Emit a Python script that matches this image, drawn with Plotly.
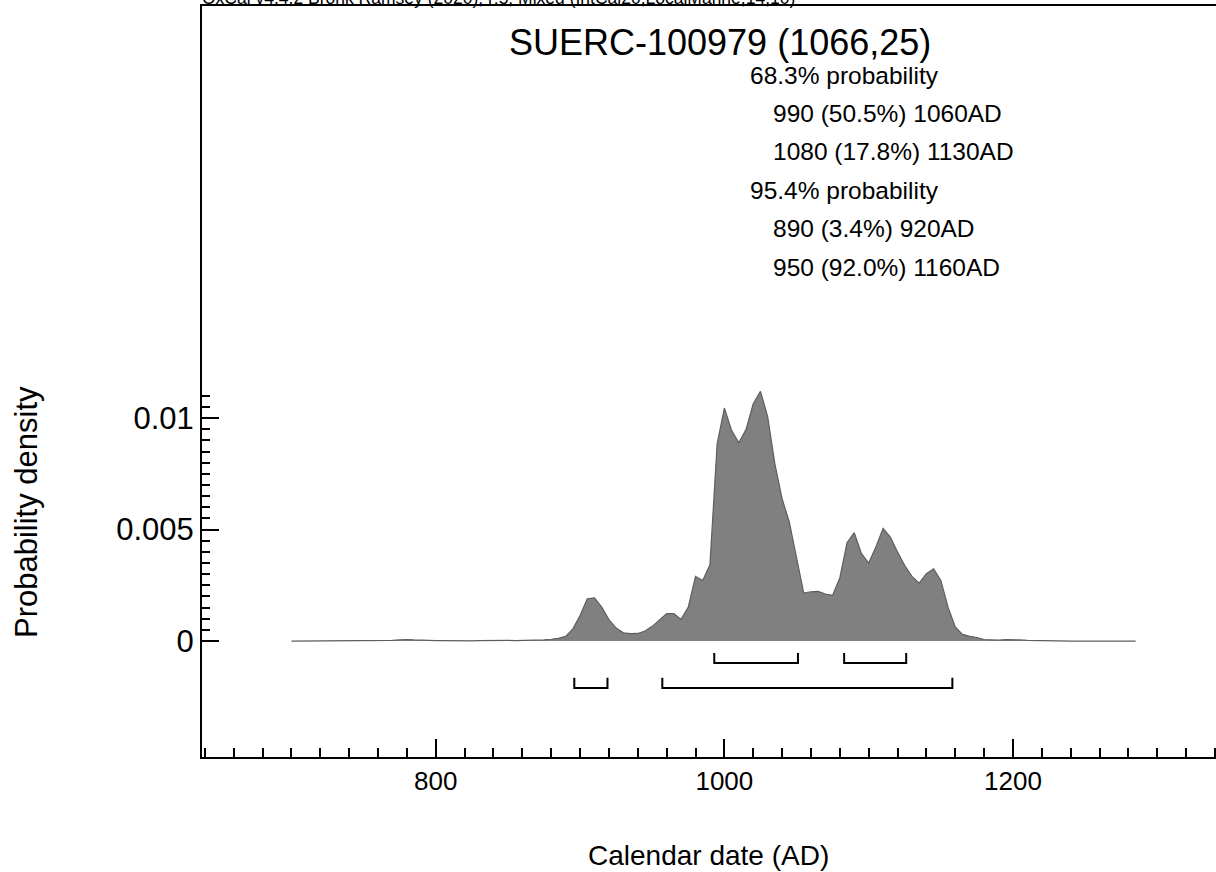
import plotly.graph_objects as go

# OxCal calibrated date SUERC-100979 (1066,25)
years = list(range(700, 1290, 5))
density_e3 = [
    0.00, 0.00, 0.00, 0.00, 0.00, 0.00, 0.00, 0.00, 0.00, 0.00,   # 700-745
    0.00, 0.01, 0.01, 0.02, 0.03, 0.05, 0.07, 0.05, 0.03, 0.02,   # 750-795
    0.02, 0.02, 0.01, 0.01, 0.01, 0.01, 0.02, 0.03, 0.04, 0.03,   # 800-845
    0.03, 0.02, 0.02, 0.03, 0.03, 0.05, 0.08, 0.12, 0.21, 0.55,   # 850-895
    1.15, 1.90, 1.94, 1.52, 0.96, 0.58, 0.37, 0.33, 0.34, 0.45,   # 900-945
    0.66, 0.93, 1.23, 1.23, 0.97, 1.52, 2.90, 2.72, 3.42, 8.85,   # 950-995
    10.45, 9.45, 8.89, 9.48, 10.64, 11.20, 10.07, 7.95, 6.38, 5.34,  # 1000-1045
    3.69, 2.15, 2.21, 2.23, 2.11, 2.05, 2.83, 4.41, 4.86, 3.92,   # 1050-1095
    3.50, 4.22, 5.05, 4.66, 3.99, 3.39, 2.90, 2.60, 3.02, 3.24,   # 1100-1145
    2.72, 1.52, 0.63, 0.30, 0.21, 0.16, 0.07, 0.04, 0.04, 0.06,   # 1150-1195
    0.07, 0.05, 0.03, 0.02, 0.01, 0.01, 0.00, 0.00, 0.00, 0.00,   # 1200-1245
    0.00, 0.00, 0.00, 0.00, 0.00, 0.00, 0.00, 0.00,               # 1250-1285
]
assert len(density_e3) == len(years)
density = [d / 1000 for d in density_e3]

# highest probability ranges (start, end)
range_68 = [(993, 1051), (1083, 1126)]
range_95 = [(896, 919), (957, 1158)]

title = "SUERC-100979 (1066,25)"
summary_lines = [
    ("68.3% probability", 0),
    ("990 (50.5%) 1060AD", 1),
    ("1080 (17.8%) 1130AD", 1),
    ("95.4% probability", 0),
    ("890 (3.4%) 920AD", 1),
    ("950 (92.0%) 1160AD", 1),
]
header = "OxCal v4.4.2 Bronk Ramsey (2020); r:5; Mixed (IntCal20,LocalMarine,14,10)"

x_major = [800, 1000, 1200]
x_minor = list(range(640, 1360, 20))
y_major = [0, 0.005, 0.01]
y_minor = [i * 0.0005 for i in range(0, 23)]

FONT = "Liberation Sans, Arial, sans-serif"
W, H = 1216, 872
L, R, T, B = 202, 0, 6, 115


def px(x):   # pixel -> paper x
    return (x - L) / (W - L - R)


def py(y):   # pixel -> paper y
    return 1 - (y - T) / (H - T - B)


fig = go.Figure()
fig.add_trace(go.Scatter(
    x=years, y=density, mode="lines", fill="tozeroy",
    fillcolor="#808080", line={"color": "#5e5e5e", "width": 1.2},
    hoverinfo="skip",
))


def bracket(ranges, y_bot, y_top):
    xs, ys = [], []
    for s, e in ranges:
        xs += [s, s, e, e, None]
        ys += [y_top, y_bot, y_bot, y_top, None]
    return go.Scatter(x=xs, y=ys, mode="lines",
                      line={"color": "black", "width": 2}, hoverinfo="skip")


fig.add_trace(bracket(range_68, -0.00099, -0.00054))
fig.add_trace(bracket(range_95, -0.00210, -0.00165))

annotations = [
    dict(text=header, x=px(200), y=py(10), xanchor="left", yanchor="bottom",
         font={"size": 17.5, "color": "black"}),
    dict(text=title, x=px(720), y=py(43), xanchor="center", yanchor="middle",
         font={"size": 36, "color": "black"}),
    dict(text="Calendar date (AD)", x=px(708), y=py(855), xanchor="center",
         yanchor="middle", font={"size": 28, "color": "black"}),
    dict(text="Probability density", x=px(26), y=py(512), xanchor="center",
         yanchor="middle", textangle=-90, font={"size": 31, "color": "black"}),
]
for i, (txt, indent) in enumerate(summary_lines):
    annotations.append(dict(
        text=txt, x=px(748 + 23 * indent), y=py(75 + 38.4 * i),
        xanchor="left", yanchor="middle",
        font={"size": 24.5, "color": "black"},
    ))
for a in annotations:
    a.update(xref="paper", yref="paper", showarrow=False)

fig.update_layout(
    width=W, height=H,
    template="none",
    paper_bgcolor="white", plot_bgcolor="white",
    margin={"l": L, "r": R, "t": T, "b": B, "pad": 0},
    font={"family": FONT, "color": "black", "size": 24},
    showlegend=False,
    annotations=annotations,
    xaxis={
        "range": [638, 1340.7], "showgrid": False, "zeroline": False,
        "showline": True, "linecolor": "black", "linewidth": 2, "mirror": True,
        "ticks": "inside", "ticklen": 18, "tickwidth": 2, "tickcolor": "black",
        "tickmode": "array", "tickvals": x_major,
        "ticktext": [str(v) for v in x_major],
        "tickfont": {"size": 26}, "ticklabelstandoff": 0,
        "minor": {"tickmode": "array", "tickvals": x_minor, "ticks": "inside",
                  "ticklen": 9, "tickwidth": 1.5, "tickcolor": "black",
                  "showgrid": False},
    },
    yaxis={
        "range": [-0.0052, 0.02848], "showgrid": False, "zeroline": False,
        "showline": True, "linecolor": "black", "linewidth": 2,
        "ticks": "inside", "ticklen": 17, "tickwidth": 2, "tickcolor": "black",
        "tickmode": "array", "tickvals": y_major,
        "ticktext": ["0", "0.005", "0.01"],
        "tickfont": {"size": 31}, "ticklabelstandoff": 0,
        "minor": {"tickmode": "array", "tickvals": y_minor, "ticks": "inside",
                  "ticklen": 8, "tickwidth": 1.5, "tickcolor": "black",
                  "showgrid": False},
    },
)

fig.write_html(
    "out.html",
    config={"displayModeBar": False},
    post_script="document.body.style.margin='0';document.body.style.overflow='hidden';",
)
